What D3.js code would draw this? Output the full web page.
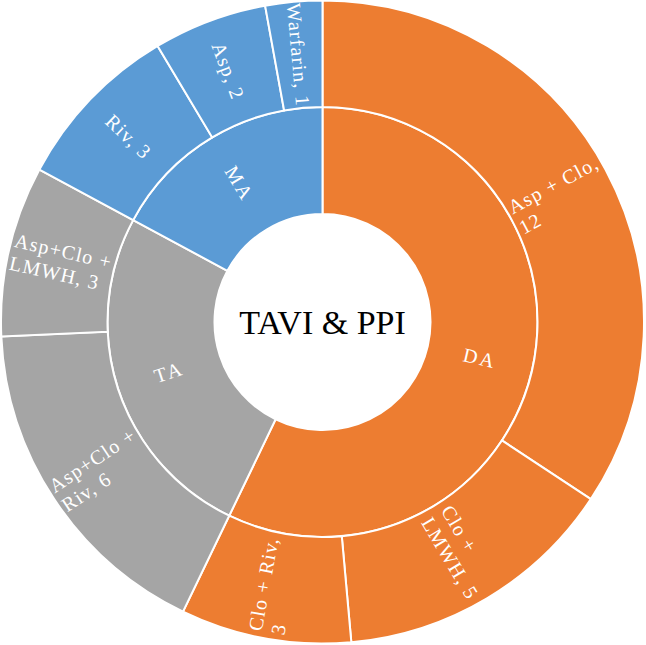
<!DOCTYPE html>
<html>
<head>
<meta charset="utf-8">
<script src="https://cdn.jsdelivr.net/npm/d3@7"></script>
<style>
  html, body { margin: 0; padding: 0; background: #fff; }
  svg { display: block; }
</style>
</head>
<body>
<svg id="chart"></svg>
<script>
// Chart data
const groups = ["DA", "TA", "MA"];
const groupColours = ["#ED7D31", "#A5A5A5", "#5B9BD5"];
const drugs = ["Asp + Clo", "Clo + LMWH", "Clo + Riv", "Asp+Clo + Riv", "Asp+Clo + LMWH", "Riv", "Asp", "Warfarin"];
const drugGroup = ["DA", "DA", "DA", "TA", "TA", "MA", "MA", "MA"];
const counts = [12, 5, 3, 6, 3, 3, 2, 1];
// How each outer label wraps
const drugLines = [
  ["Asp + Clo,", "12"],
  ["Clo +", "LMWH, 5"],
  ["Clo + Riv,", "3"],
  ["Asp+Clo +", "Riv, 6"],
  ["Asp+Clo +", "LMWH, 3"],
  ["Riv, 3"],
  ["Asp, 2"],
  ["Warfarin, 1"]
];
const centreTitle = "TAVI & PPI";

const width = 646, height = 645;
const cx = 322.5, cy = 322;

const svg = d3.select('#chart')
  .attr('width', width)
  .attr('height', height);

// Build hierarchy
const tree = {
  name: "root",
  children: groups.map(g => ({
    name: g,
    children: drugs
      .map((d, i) => ({ name: d, value: counts[i], lines: drugLines[i], group: drugGroup[i] }))
      .filter(d => d.group === g)
  }))
};

const root = d3.hierarchy(tree).sum(d => d.value || 0);
d3.partition().size([2 * Math.PI, 3])(root);

const radius = d3.scaleLinear().domain([1, 2, 3]).range([108, 215, 321.5]);
const colour = d3.scaleOrdinal().domain(groups).range(groupColours);

const arc = d3.arc()
  .startAngle(d => d.x0)
  .endAngle(d => d.x1)
  .innerRadius(d => radius(d.y0))
  .outerRadius(d => radius(d.y1));

const g = svg.append('g').attr('transform', `translate(${cx},${cy})`);

const nodes = root.descendants().filter(d => d.depth > 0);

g.selectAll('path')
  .data(nodes)
  .join('path')
  .attr('d', arc)
  .attr('fill', d => colour(d.depth === 1 ? d.data.name : d.parent.data.name))
  .attr('stroke', '#fff')
  .attr('stroke-width', 2);

// Labels, rotated along the radius
function labelTransform(d) {
  const a = (d.x0 + d.x1) / 2;
  const r = (radius(d.y0) + radius(d.y1)) / 2;
  const x = Math.sin(a) * r;
  const y = -Math.cos(a) * r;
  let rot = a * 180 / Math.PI - 90;
  if (rot > 90) rot -= 180;
  return `translate(${x},${y}) rotate(${rot})`;
}

const fontSize = 20;
const lineH = 23;

nodes.forEach(d => {
  const lines = d.depth === 1 ? [d.data.name] : d.data.lines;
  const lab = g.append('g').attr('transform', labelTransform(d));
  const text = lab.append('text')
    .attr('font-family', '"Liberation Serif", "Times New Roman", serif')
    .attr('font-size', fontSize)
    .attr('letter-spacing', d.depth === 1 ? 2.5 : 1.2)
    .attr('fill', '#fff');
  const spans = lines.map((t, i) => text.append('tspan')
    .attr('x', 0)
    .attr('y', (i - (lines.length - 1) / 2) * lineH)
    .attr('dy', '0.35em')
    .text(t));
  // left-aligned block centred on the slice
  const maxW = d3.max(spans, s => s.node().getComputedTextLength());
  spans.forEach(s => s.attr('x', -maxW / 2));
});

g.append('text')
  .attr('text-anchor', 'middle')
  .attr('dy', '0.35em')
  .attr('font-family', '"Liberation Serif", "Times New Roman", serif')
  .attr('font-size', 34)
  .attr('fill', '#000')
  .text(centreTitle);
</script>
</body>
</html>
